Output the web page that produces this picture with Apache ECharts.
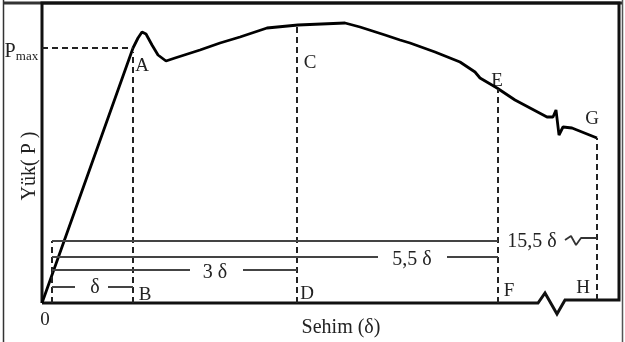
<!DOCTYPE html>
<html>
<head>
<meta charset="utf-8">
<script src="https://cdn.jsdelivr.net/npm/echarts@6/dist/echarts.min.js"></script>
<style>html,body{margin:0;padding:0;background:#fff}#c{width:625px;height:342px}</style>
</head>
<body>
<div id="c"></div>
<script>
// Load–deflection curve (schematic units)
const curveX = [0, 91, 96, 100, 104, 110, 116, 124, 133, 158, 178, 198, 225, 256, 303, 318, 343, 358, 368, 393, 418, 433, 438, 455, 473, 505, 511, 514, 517, 521, 530, 555];
const curveY = [0, 255, 265, 271, 269, 258, 248, 242, 245, 253, 260, 266, 275, 278, 280, 276, 268, 263, 260, 251, 241, 231, 225, 215, 203, 186, 186, 193, 168, 176, 175, 165];

// Axis frame with the break on the deflection axis
const frameX = [0, 0, 577, 577, 523, 515, 503, 496, 0];
const frameY = [0, 300, 300, 3, 3, -11, 10, 0, 0];

// Dashed guide lines: [x1, y1, x2, y2]
const dashedSegs = [
  [91, 0, 91, 251],     // A-B
  [255, 0, 255, 278],   // C-D
  [456, 0, 456, 214],   // E-F
  [555, 3, 555, 165],   // G-H
  [10, 0, 10, 62],      // start bracket
  [0, 255, 91, 255]     // Pmax
];

// Dimension lines (δ, 3δ, 5,5δ, 15,5δ)
const dimSegs = [
  [10, 62, 456, 62],
  [10, 46, 336, 46], [405, 46, 456, 46],
  [10, 33, 148, 33], [201, 33, 255, 33],
  [10, 16, 33, 16], [66, 16, 91, 16]
];
const squiggleX = [523, 529, 534, 539, 555];
const squiggleY = [63, 67, 58, 65, 65];

// Annotation labels
const labelText = ['A', 'C', 'E', 'G', 'B', 'D', 'F', 'H', '0', 'Sehim (δ)', '15,5 δ', '5,5 δ', '3 δ', 'δ'];
const labelX = [100, 268, 455, 550, 103, 265, 467, 541, 3, 299, 490, 370, 173, 53];
const labelY = [237, 240, 222, 184, 8, 9, 12, 15, -17, -25, 61, 43, 30, 15];
const labelSize = [19, 19, 19, 19, 19, 19, 19, 19, 19, 20, 20, 20, 20, 20];

const yTitle = 'Yük( P )';
const pmaxMain = 'P', pmaxSub = 'max';

const chart = echarts.init(document.getElementById('c'), null, {renderer: 'canvas'});
const FONT = '"Liberation Serif", "Times New Roman", serif';

function segSeries(segs, style) {
  return segs.map(s => ({
    type: 'line', silent: true, clip: false, symbol: 'none', animation: false,
    data: [[s[0], s[1]], [s[2], s[3]]],
    lineStyle: style
  }));
}

function textItem(x, y, text, size, rot) {
  return function (params, api) {
    const p = api.coord([x, y]);
    return {
      type: 'text', x: p[0], y: p[1], rotation: rot || 0,
      style: {text: text, x: 0, y: 0, fill: '#222', font: size + 'px ' + FONT,
        align: 'center', verticalAlign: 'middle', textAlign: 'center', textVerticalAlign: 'middle'}
    };
  };
}

const series = [];
series.push({
  type: 'line', silent: true, clip: false, symbol: 'none', animation: false,
  data: frameX.map((x, i) => [x, frameY[i]]),
  lineStyle: {color: '#111', width: 3, join: 'miter'}
});
series.push({
  type: 'line', silent: true, clip: false, symbol: 'none', animation: false,
  data: curveX.map((x, i) => [x, curveY[i]]),
  lineStyle: {color: '#000', width: 2.8}
});
segSeries(dashedSegs, {color: '#222', width: 2, type: [6, 4]}).forEach(s => series.push(s));
segSeries(dimSegs, {color: '#444', width: 2}).forEach(s => series.push(s));
series.push({
  type: 'line', silent: true, clip: false, symbol: 'none', animation: false,
  data: squiggleX.map((x, i) => [x, squiggleY[i]]),
  lineStyle: {color: '#333', width: 1.8}
});
series.push({
  type: 'custom', silent: true, clip: false, animation: false,
  data: labelX.map((x, i) => [x, labelY[i]]),
  renderItem: function (params, api) {
    const i = params.dataIndex;
    return textItem(labelX[i], labelY[i], labelText[i], labelSize[i])(params, api);
  }
});
series.push({
  type: 'custom', silent: true, clip: false, animation: false,
  data: [[-12, 137]],
  renderItem: textItem(-12, 137, yTitle, 20, Math.PI / 2)
});
series.push({
  type: 'custom', silent: true, clip: false, animation: false,
  data: [[-32, 251]],
  renderItem: textItem(-32, 251, pmaxMain, 20)
});
series.push({
  type: 'custom', silent: true, clip: false, animation: false,
  data: [[-15, 246]],
  renderItem: textItem(-15, 246, pmaxSub, 13)
});

chart.setOption({
  animation: false,
  backgroundColor: '#fff',
  grid: {left: 42, right: 6, top: 3, bottom: 39},
  xAxis: {type: 'value', min: 0, max: 577, show: false},
  yAxis: {type: 'value', min: 0, max: 300, show: false},
  graphic: [
    {type: 'line', shape: {x1: 3.5, y1: 0, x2: 3.5, y2: 342}, style: {stroke: '#333', lineWidth: 1.5}, silent: true},
    {type: 'line', shape: {x1: 622.5, y1: 0, x2: 622.5, y2: 342}, style: {stroke: '#555', lineWidth: 1.5}, silent: true},
    {type: 'line', shape: {x1: 3, y1: 3, x2: 622, y2: 3}, style: {stroke: '#333', lineWidth: 3}, silent: true}
  ],
  series: series
});
</script>
</body>
</html>
